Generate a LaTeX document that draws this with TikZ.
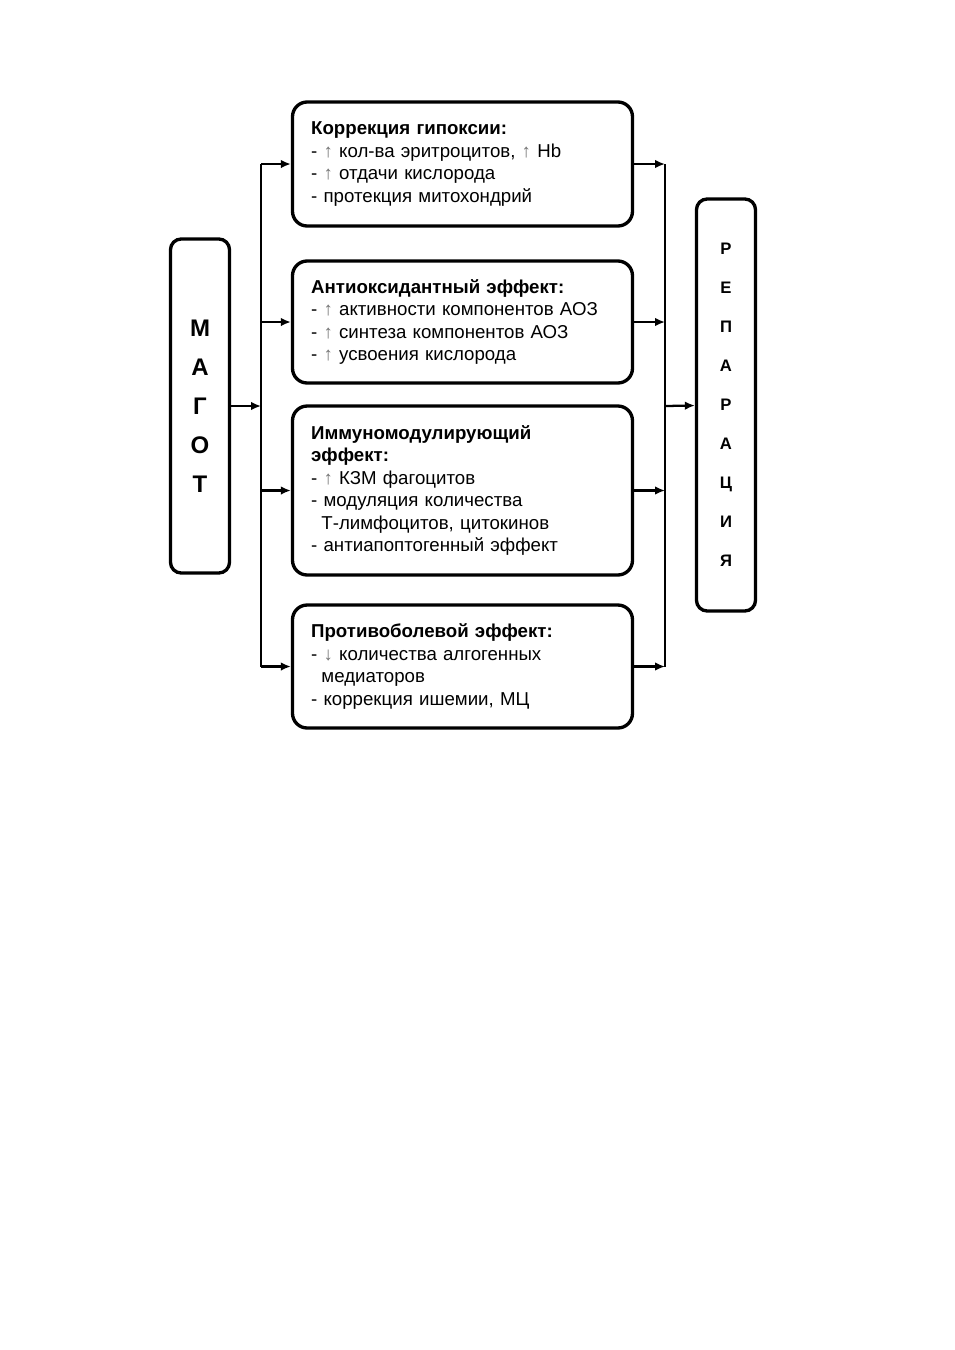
\documentclass[tikz,border=0pt]{standalone}
\usepackage{fontspec}
\setmainfont{Liberation Sans}[WordSpace=1.4]
\usepackage{xcolor}
\usetikzlibrary{arrows.meta}

\tikzset{
	effbox/.style={draw, line width=2.5pt, rounded corners=11pt, minimum width=255pt, inner xsep=14pt, text width=227pt, align=left, font=\fontsize{14}{16.9}\selectfont},
	sidebox/.style={draw, line width=2.5pt, rounded corners=8pt, minimum width=44.25pt, align=center, font=\bfseries},
	link/.style={line width=1.7pt},
	arr/.style={link, -{Latex[length=7.5pt,width=6.5pt]}},
}
\newcommand{\upar}{{\color{black!55}↑}}
\newcommand{\downar}{{\color{black!55}↓}}

\begin{document}
\begin{tikzpicture}[x=0.75pt, y=-0.75pt]
	\useasboundingbox (0,0) rectangle (954,1350);

		\node[sidebox, minimum height=250.5pt, font=\bfseries\fontsize{18}{29.25}\selectfont] (magot) at (200,406) {М\\А\\Г\\О\\Т};
		\node[sidebox, minimum height=309pt, font=\bfseries\fontsize{12.5}{29.25}\selectfont] (rep) at (726,405) {Р\\Е\\П\\А\\Р\\А\\Ц\\И\\Я};

		\node[effbox, minimum height=93pt] (hyp) at (462.5,164) {\textbf{Коррекция гипоксии:}\\- \upar{} кол-ва эритроцитов, \upar{} Hb\\- \upar{} отдачи кислорода\\- протекция митохондрий};
		\node[effbox, minimum height=91.5pt] (aox) at (462.5,322) {\textbf{Антиоксидантный эффект:}\\- \upar{} активности компонентов АОЗ\\- \upar{} синтеза компонентов АОЗ\\- \upar{} усвоения кислорода};
		\node[effbox, minimum height=126.75pt] (imm) at (462.5,490.5) {\textbf{Иммуномодулирующий}\\\textbf{эффект:}\\- \upar{} КЗМ фагоцитов\\- модуляция количества\\\hspace*{0.55em}Т-лимфоцитов, цитокинов\\- антиапоптогенный эффект};
		\node[effbox, minimum height=92.25pt] (pain) at (462.5,666.5) {\textbf{Противоболевой эффект:}\\- \downar{} количества алгогенных\\\hspace*{0.55em}медиаторов\\- коррекция ишемии, МЦ};

		\coordinate (lbus) at (261,406);
		\coordinate (rbus) at (665,406);

		\draw[arr] (magot) -- (lbus);
		\draw[link] (lbus |- hyp.west) -- (lbus |- pain.west);
		\foreach \b in {hyp,aox,imm,pain}
			\draw[arr] (lbus |- \b.west) -- (\b.west);

		\draw[link] (rbus |- hyp.east) -- (rbus |- pain.east);
		\foreach \b in {hyp,aox,imm,pain}
			\draw[arr] (\b.east) -- (rbus |- \b.east);
		\draw[arr] (rbus) -- (rep);
	\end{tikzpicture}
\end{document}
